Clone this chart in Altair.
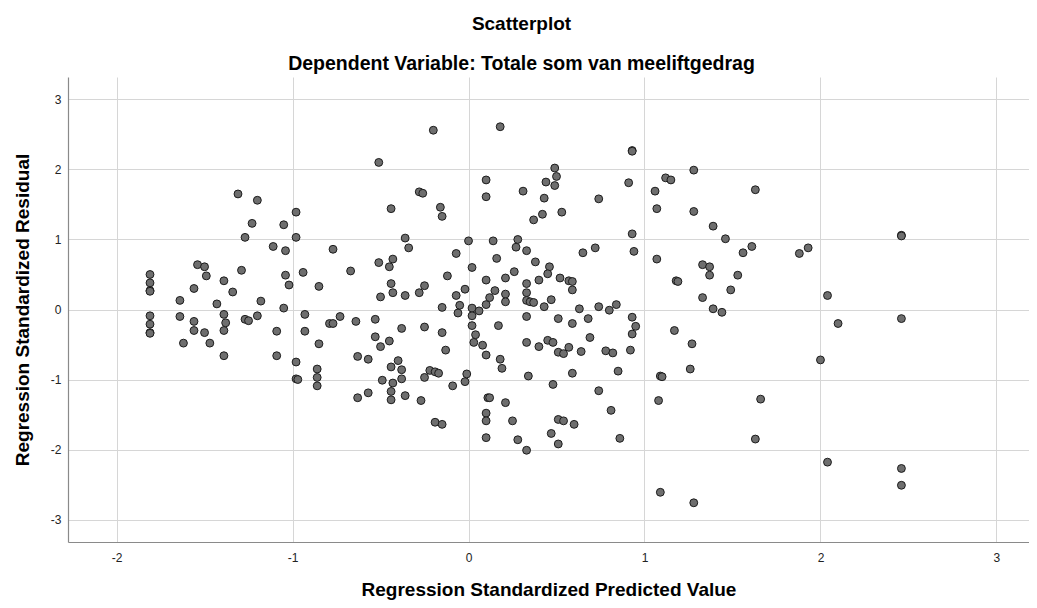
import altair as alt
import pandas as pd

predicted = [
    -1.31, -1.20, -0.98, -1.23, -1.05, -1.27, -0.98, -1.11, -1.04, -0.77,
    -1.54, -1.50, -1.49, -1.29, -1.81, -1.81, -1.81, -1.81, -1.56, -1.39,
    -1.34, -1.04, -0.94, -1.02, -0.85, -1.64, -1.43, -1.18, -1.05, -0.93,
    -1.81, -1.64, -1.56, -1.39, -1.27, -1.25, -1.20, -1.81, -1.81, -1.81,
    -1.56, -1.50, -1.62, -1.47, -1.38, -1.39, -1.39, -1.09, -1.09, -0.93,
    -0.85, -0.79, -0.98, -0.98, -0.97, -0.86, -0.86, -0.86,
    -0.20, 0.18, -0.51, 0.10, 0.49, 0.50, 0.44, 0.49, -0.28, -0.26,
    0.31, 0.10, 0.43, -0.44, -0.16, -0.15, 0.42, 0.37, 0.53, -0.36,
    -0.34, 0.00, 0.14, 0.28, 0.27, 0.33, -0.07, 0.16, 0.38, 0.65,
    -0.67, -0.51, -0.43, -0.45, 0.02, 0.46, 0.45, 0.40, 0.52, 0.26,
    0.21, 0.10, -0.12, -0.44, -0.43, -0.50, -0.36, -0.25, -0.28, -0.15,
    -0.07, -0.02, -0.05, -0.06, 0.02, 0.02, 0.06, 0.10, 0.12, 0.15,
    0.21, 0.21, 0.33, 0.33, 0.33, 0.35, 0.37, 0.47, 0.43, 0.57,
    0.59, 0.59, 0.63, 0.33, 0.51, -0.73, -0.64, -0.53, -0.77,
    -0.53, -0.50, -0.45, -0.38, -0.63, -0.57, -0.40, -0.44, -0.38, -0.38,
    -0.49, -0.43, -0.44, -0.44, -0.63, -0.57, -0.36, -0.27, -0.25, -0.15,
    -0.13, -0.22, -0.19, -0.17, -0.25, -0.09, -0.02, -0.01, -0.19, -0.15,
    0.02, 0.04, 0.03, 0.08, 0.10, 0.17, 0.18, 0.19, 0.59, 0.33,
    0.40, 0.45, 0.48, 0.51, 0.54, 0.57, 0.64, 0.34, 0.48, 0.59,
    0.11, 0.12, 0.21, 0.10, 0.10, 0.10, 0.25, 0.28, 0.33, 0.51,
    0.54, 0.60, 0.47, 0.51,
    0.93, 0.93, 1.28, 1.12, 1.15, 0.91, 1.63, 1.06, 0.74, 1.07,
    1.28, 1.39, 1.46, 0.93, 0.94, 0.72, 1.56, 1.61, 1.88, 1.93,
    1.07, 1.33, 1.37, 1.37, 1.53, 1.18, 1.19, 1.49, 1.33, 1.39,
    1.44, 2.04, 0.74, 0.80, 0.84, 0.68, 0.93,
    0.95, 0.93, 0.92, 0.69, 0.78, 0.82, 0.85, 0.74, 0.81, 0.86,
    1.17, 1.27, 1.26, 1.09, 1.10, 1.08, 1.66, 1.63, 2.00, 2.04,
    1.09, 1.28,
    2.46, 2.46, 2.10, 2.46, 2.46, 2.46,
]

residual = [
    1.65, 1.56, 1.39, 1.23, 1.21, 1.03, 1.03, 0.90, 0.84, 0.86,
    0.64, 0.61, 0.48, 0.56, 0.50, 0.38, 0.27, 0.26, 0.30, 0.41,
    0.25, 0.49, 0.53, 0.35, 0.33, 0.13, 0.08, 0.12, 0.02, -0.07,
    -0.09, -0.10, -0.17, -0.07, -0.14, -0.16, -0.09, -0.21, -0.33, -0.34,
    -0.30, -0.33, -0.48, -0.48, -0.19, -0.30, -0.66, -0.31, -0.66, -0.31,
    -0.49, -0.20, -0.75, -0.99, -1.00, -0.85, -0.97, -1.09,
    2.56, 2.61, 2.10, 1.85, 2.02, 1.90, 1.82, 1.77, 1.68, 1.66,
    1.69, 1.61, 1.59, 1.44, 1.46, 1.33, 1.36, 1.28, 1.39, 1.02,
    0.88, 0.98, 0.98, 1.00, 0.89, 0.84, 0.80, 0.73, 0.68, 0.81,
    0.55, 0.67, 0.72, 0.61, 0.60, 0.61, 0.51, 0.42, 0.45, 0.54,
    0.45, 0.42, 0.48, 0.37, 0.24, 0.18, 0.20, 0.34, 0.24, 0.03,
    0.20, 0.29, 0.06, -0.05, 0.02, -0.09, -0.02, 0.07, 0.17, 0.27,
    0.22, 0.11, 0.37, 0.24, 0.13, 0.11, 0.10, 0.14, 0.04, 0.41,
    0.40, 0.28, 0.01, -0.10, -0.13, -0.10, -0.17, -0.14, -0.20,
    -0.39, -0.53, -0.45, -0.27, -0.67, -0.71, -0.73, -0.82, -0.86, -0.99,
    -1.01, -1.05, -1.17, -1.29, -1.26, -1.19, -1.23, -1.30, -0.25, -0.33,
    -0.58, -0.87, -0.89, -0.91, -0.97, -1.09, -1.03, -0.92, -1.61, -1.64,
    -0.23, -0.36, -0.47, -0.51, -0.65, -0.23, -0.71, -0.84, -0.20, -0.47,
    -0.53, -0.44, -0.47, -0.61, -0.63, -0.54, -0.60, -0.95, -1.07, -0.91,
    -1.26, -1.26, -1.33, -1.48, -1.59, -1.83, -1.59, -1.86, -2.01, -1.57,
    -1.59, -1.64, -1.77, -1.92,
    2.27, 2.26, 1.99, 1.88, 1.85, 1.81, 1.71, 1.69, 1.58, 1.44,
    1.40, 1.19, 1.01, 1.08, 0.83, 0.88, 0.81, 0.90, 0.80, 0.88,
    0.72, 0.64, 0.61, 0.49, 0.49, 0.41, 0.40, 0.28, 0.17, 0.01,
    -0.04, 0.20, 0.04, -0.01, 0.07, -0.13, -0.11,
    -0.24, -0.35, -0.58, -0.40, -0.59, -0.62, -0.88, -1.16, -1.44, -1.84,
    -0.30, -0.49, -0.85, -0.95, -0.96, -1.30, -1.28, -1.85, -0.72, -2.18,
    -2.61, -2.76,
    1.06, 1.05, -0.20, -0.13, -2.27, -2.51,
]

x_ticks = [-2, -1, 0, 1, 2, 3]
y_ticks = [-3, -2, -1, 0, 1, 2, 3]

df = pd.DataFrame({"pred": predicted, "resid": residual})

FONT = "Liberation Sans"

chart = (
    alt.Chart(df)
    .mark_circle(size=62, fill="#6e6e6e", stroke="#1c1c1c", strokeWidth=1, opacity=1)
    .encode(
        x=alt.X(
            "pred:Q",
            scale=alt.Scale(domain=[-2.276, 3.185], nice=False, zero=False),
            axis=alt.Axis(
                values=x_ticks,
                title="Regression Standardized Predicted Value",
                labelExpr="toString(datum.value)",
                labelPadding=10,
                titlePadding=17,
            ),
        ),
        y=alt.Y(
            "resid:Q",
            scale=alt.Scale(domain=[-3.32, 3.32], nice=False, zero=False),
            axis=alt.Axis(
                values=y_ticks,
                title="Regression Standardized Residual",
                labelExpr="toString(datum.value)",
                labelPadding=7,
                titlePadding=18,
            ),
        ),
    )
    .properties(
        width=961,
        height=465,
        autosize="none",
        padding={"left": 60, "top": 69, "right": 0, "bottom": 58},
        title=alt.TitleParams(
            text="Scatterplot",
            subtitle="Dependent Variable: Totale som van meeliftgedrag",
            anchor="middle",
            dx=-27,
            offset=4,
            font=FONT,
            fontSize=19,
            fontWeight="bold",
            color="#000000",
            subtitleFont=FONT,
            subtitleFontSize=19.5,
            subtitleFontWeight="bold",
            subtitleColor="#000000",
            subtitlePadding=21,
        ),
    )
    .configure_view(stroke=None)
    .configure_axis(
        domainColor="#8a8a8a",
        domainWidth=1.2,
        gridColor="#d6d6d6",
        gridWidth=1,
        ticks=False,
        labelFont=FONT,
        labelFontSize=12,
        labelColor="#222222",
        titleFont=FONT,
        titleFontSize=19,
        titleFontWeight="bold",
        titleColor="#000000",
    )
)

chart.save("out.html", embed_options={"renderer": "svg", "actions": False})
